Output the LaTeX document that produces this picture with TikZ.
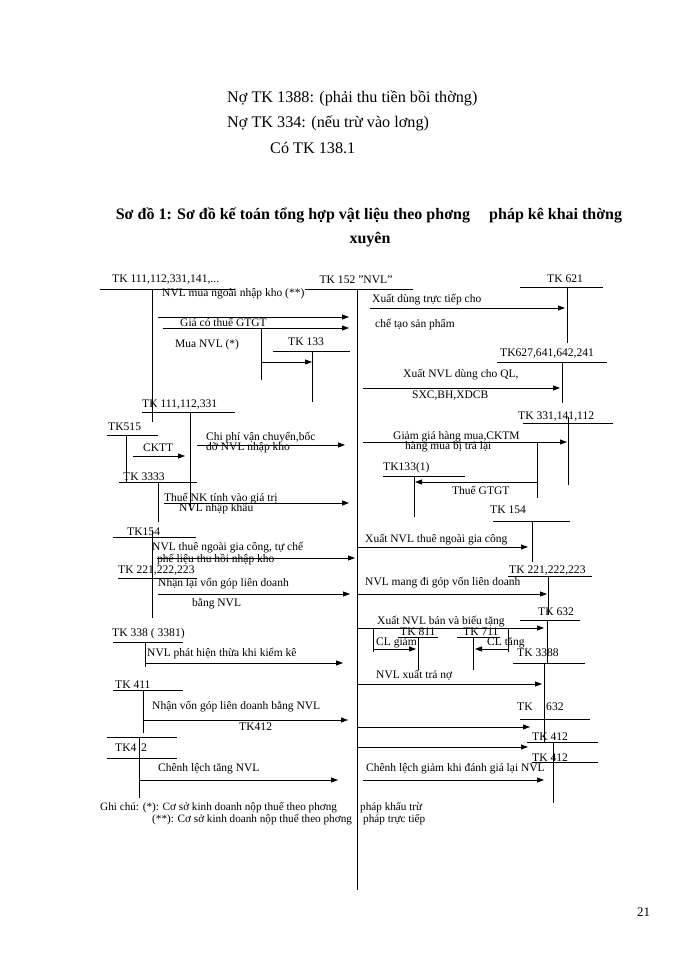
\documentclass[tikz,border=0pt]{standalone}
\usepackage{fontspec}
\setmainfont{Liberation Serif}
\usetikzlibrary{arrows.meta}
\begin{document}
\begin{tikzpicture}[x=1pt,y=-1pt,
  lab/.style={font=\fontsize{11.5}{12}\selectfont, inner sep=0pt, anchor=west},
  acc/.style={font=\fontsize{11.6}{12}\selectfont, inner sep=0pt, anchor=west},
  note/.style={font=\fontsize{11.2}{12}\selectfont, inner sep=0pt, anchor=west},
  big/.style={font=\fontsize{16.2}{18}\selectfont, inner sep=0pt, anchor=west},
  ttl/.style={font=\fontsize{16}{18}\selectfont\bfseries, inner sep=0pt},
  ln/.style={line width=0.8pt},
  arr/.style={line width=0.8pt, -{Triangle[length=7pt,width=5pt]}}]
\useasboundingbox (0,0) rectangle (700,960);
\fill[white] (0,0) rectangle (700,960);
% top text
\node[big] (t1) at (227,98) {Nợ TK 1388: (phải thu tiền bồi thờng)};
\node[big] (t2) at (227,123) {Nợ TK 334: (nếu trừ vào lơng)};
\node[big] (t3) at (270,148) {Có TK 138.1};
\node[ttl] (title1) at (369,215) {Sơ đồ 1: Sơ đồ kế toán tổng hợp vật liệu theo phơng\hspace{1.2em}pháp kê khai thờng};
\node[ttl] (title2) at (370,240) {xuyên};
% main account TK 152
\node[acc, anchor=center] (k152) at (356,280) {TK 152 \symbol{34}NVL\symbol{34}};
\draw[ln] (305,289) -- (413,289);
\draw[ln] (357,289) -- (357,890);
% left TK 111...
\node[acc] (k111a) at (112,280) {TK 111,112,331,141,...};
\draw[ln] (100,289) -- (235,289);
\draw[ln] (152,289) -- (152,422);
\draw[arr] (158,317) -- (349,317);
\node[lab] (l1) at (162,294) {NVL mua ngoài nhập kho (**)};
\draw[arr] (163,328) -- (349,328);
\node[lab] (l2) at (180,322) {Giá có thuế GTGT};
\node[lab] (l3) at (175,345) {Mua NVL (*)};
\draw[ln] (261,328) -- (261,380);
\draw[arr] (261,362) -- (312,362);
\node[acc] (k133) at (288,342) {TK 133};
\draw[ln] (273,351) -- (350,351);
\draw[ln] (312,351) -- (312,402);
% right TK 621
\node[acc] (k621) at (547,279) {TK 621};
\draw[ln] (520,287) -- (603,287);
\draw[ln] (567,287) -- (567,343);
\draw[arr] (370,308) -- (565,308);
\node[lab] (r1) at (372,300) {Xuất dùng trực tiếp cho};
\node[lab] (r1b) at (375,325) {chế tạo sản phẩm};
% TK 627...
\node[acc] (k627) at (500,354) {TK627,641,642,241};
\draw[ln] (497,362) -- (607,362);
\draw[ln] (562,362) -- (562,403);
\draw[arr] (363,388) -- (560,388);
\node[lab] (r2) at (403,375) {Xuất NVL dùng cho QL,};
\node[lab] (r2b) at (412,396) {SXC,BH,XDCB};
% left TK 111,112,331
\node[acc] (k111b) at (142,405) {TK 111,112,331};
\draw[ln] (142,412) -- (235,412);
\draw[ln] (190,412) -- (190,510);
\node[acc] (k515) at (108,427) {TK515};
\draw[ln] (107,435) -- (158,435);
\draw[ln] (126,435) -- (126,482);
\node[lab] (l4) at (143,448) {CKTT};
\draw[arr] (133,456) -- (185,456);
\node[acc] (k3333) at (123,477) {TK 3333};
\draw[ln] (119,482) -- (197,482);
\draw[ln] (158,482) -- (158,522);
\draw[arr] (197,445) -- (345,445);
\node[lab] (l5) at (206,438) {Chi phí vận chuyển,bốc};
\node[lab] (l5b) at (206,448) {dỡ NVL nhập kho};
\draw[arr] (164,503) -- (349,503);
\node[lab] (l6) at (164,499) {Thuế NK tính vào giá trị};
\node[lab] (l6b) at (179,509) {NVL nhập khẩu};
% right TK 331,141,112
\node[acc] (k331) at (518,417) {TK 331,141,112};
\draw[ln] (523,423) -- (613,423);
\draw[ln] (568,417) -- (568,485);
\draw[arr] (363,442) -- (567,442);
\node[lab] (r3) at (393,437) {Giảm giá hàng mua,CKTM};
\node[lab] (r3b) at (405,447) {hàng mua bị trả lại};
\draw[ln] (537,442) -- (537,498);
\draw[arr] (537,482) -- (415,482);
\node[lab] (r4) at (452,490) {Thuế GTGT};
\node[acc] (k1331) at (383,468) {TK133(1)};
\draw[ln] (383,476) -- (465,476);
\draw[ln] (414,476) -- (414,517);
% right TK 154
\node[acc] (k154r) at (490,510) {TK 154};
\draw[ln] (493,521) -- (570,521);
\draw[ln] (532,521) -- (532,562);
\draw[arr] (357,547) -- (528,547);
\node[lab] (r5) at (365,540) {Xuất NVL thuê ngoài gia công};
% right TK 221
\node[acc] (k221r) at (509,571) {TK 221,222,223};
\draw[ln] (508,576) -- (592,576);
\draw[ln] (548,576) -- (548,615);
\draw[arr] (357,594) -- (547,594);
\node[lab] (r6) at (365,583) {NVL mang đi góp vốn liên doanh};
% right TK 632
\node[acc] (k632a) at (538,612) {TK 632};
\draw[ln] (520,620) -- (580,620);
\draw[ln] (547,620) -- (547,663);
\draw[arr] (357,628) -- (544,628);
\node[lab] (r7) at (377,622) {Xuất NVL bán và biếu tặng};
\draw[ln] (373,628) -- (373,652);
\draw[arr] (373,649) -- (416,649);
\node[lab] (r8) at (376,643) {CL giảm};
\node[acc] (k811) at (400,632) {TK 811};
\draw[ln] (398,637) -- (438,637);
\draw[ln] (418,637) -- (418,670);
\node[acc] (k711) at (463,632) {TK 711};
\draw[ln] (457,637) -- (500,637);
\draw[ln] (473,637) -- (473,670);
\draw[ln] (508,628) -- (508,652);
\draw[arr] (508,649) -- (475,649);
\node[lab] (r9) at (487,643) {CL tăng};
% TK 3388
\node[acc] (k3388) at (517,653) {TK 3388};
\draw[ln] (513,663) -- (585,663);
\draw[ln] (544,663) -- (544,742);
\draw[arr] (357,684) -- (542,684);
\node[lab] (r10) at (376,675) {NVL xuất trả nợ};
% TK 632 second
\node[acc] (k632b) at (517,707) {TK};
\node[acc] (k632c) at (546,707) {632};
\draw[ln] (520,719) -- (590,719);
\draw[arr] (357,727) -- (530,727);
% TK 412
\node[acc] (k412a) at (532,737) {TK 412};
\draw[ln] (527,742) -- (598,742);
\draw[arr] (357,747) -- (528,747);
\node[acc] (k412b) at (532,758) {TK 412};
\draw[ln] (532,762) -- (598,762);
\draw[ln] (553,742) -- (553,803);
\draw[arr] (363,780) -- (544,780);
\node[lab] (r11) at (366,769) {Chênh lệch giảm khi đánh giá lại NVL};
% left TK154
\node[acc] (k154l) at (127,532) {TK154};
\draw[ln] (113,537) -- (196,537);
\draw[ln] (152,530) -- (152,618);
\draw[arr] (157,558) -- (355,558);
\node[lab] (l7) at (152,548) {NVL thuê ngoài gia công, tự chế};
\node[lab] (l7b) at (157,560) {phế liệu thu hồi nhập kho};
\node[acc] (k221l) at (118,571) {TK 221,222,223};
\draw[ln] (118,578) -- (197,578);
\draw[arr] (158,594) -- (350,594);
\node[lab] (l8) at (158,584) {Nhận lại vốn góp liên doanh};
\node[lab] (l8b) at (192,604) {bằng NVL};
% TK 338
\node[acc] (k338) at (112,634) {TK 338 ( 3381)};
\draw[ln] (113,642) -- (183,642);
\draw[ln] (145,642) -- (145,667);
\draw[arr] (145,663) -- (343,663);
\node[lab] (l9) at (147,654) {NVL phát hiện thừa khi kiểm kê};
% TK 411
\node[acc] (k411) at (115,685) {TK 411};
\draw[ln] (113,690) -- (183,690);
\draw[ln] (143,690) -- (143,733);
\draw[arr] (143,720) -- (348,720);
\node[lab] (l10) at (152,707) {Nhận vốn góp liên doanh bằng NVL};
\node[acc] (l10b) at (239,727) {TK412};
% TK4 2
\draw[ln] (107,737) -- (177,737);
\draw[ln] (107,758) -- (177,758);
\node[acc] (k412l) at (115,748) {TK4};
\node[acc] (k412m) at (141,748) {2};
\draw[ln] (139,737) -- (139,798);
\draw[arr] (139,780) -- (338,780);
\node[lab] (l11) at (158,769) {Chênh lệch tăng NVL};
% notes
\node[note] (n1) at (100,808) {Ghi chú: (*): Cơ sở kinh doanh nộp thuế theo phơng};
\node[note] (n1b) at (360,808) {pháp khấu trừ};
\node[note] (n2) at (152,820) {(**): Cơ sở kinh doanh nộp thuế theo phơng};
\node[note] (n2b) at (363,820) {pháp trực tiếp};
\node[big, font=\fontsize{13}{15}\selectfont] (pg) at (637,912) {21};
\end{tikzpicture}
\end{document}
